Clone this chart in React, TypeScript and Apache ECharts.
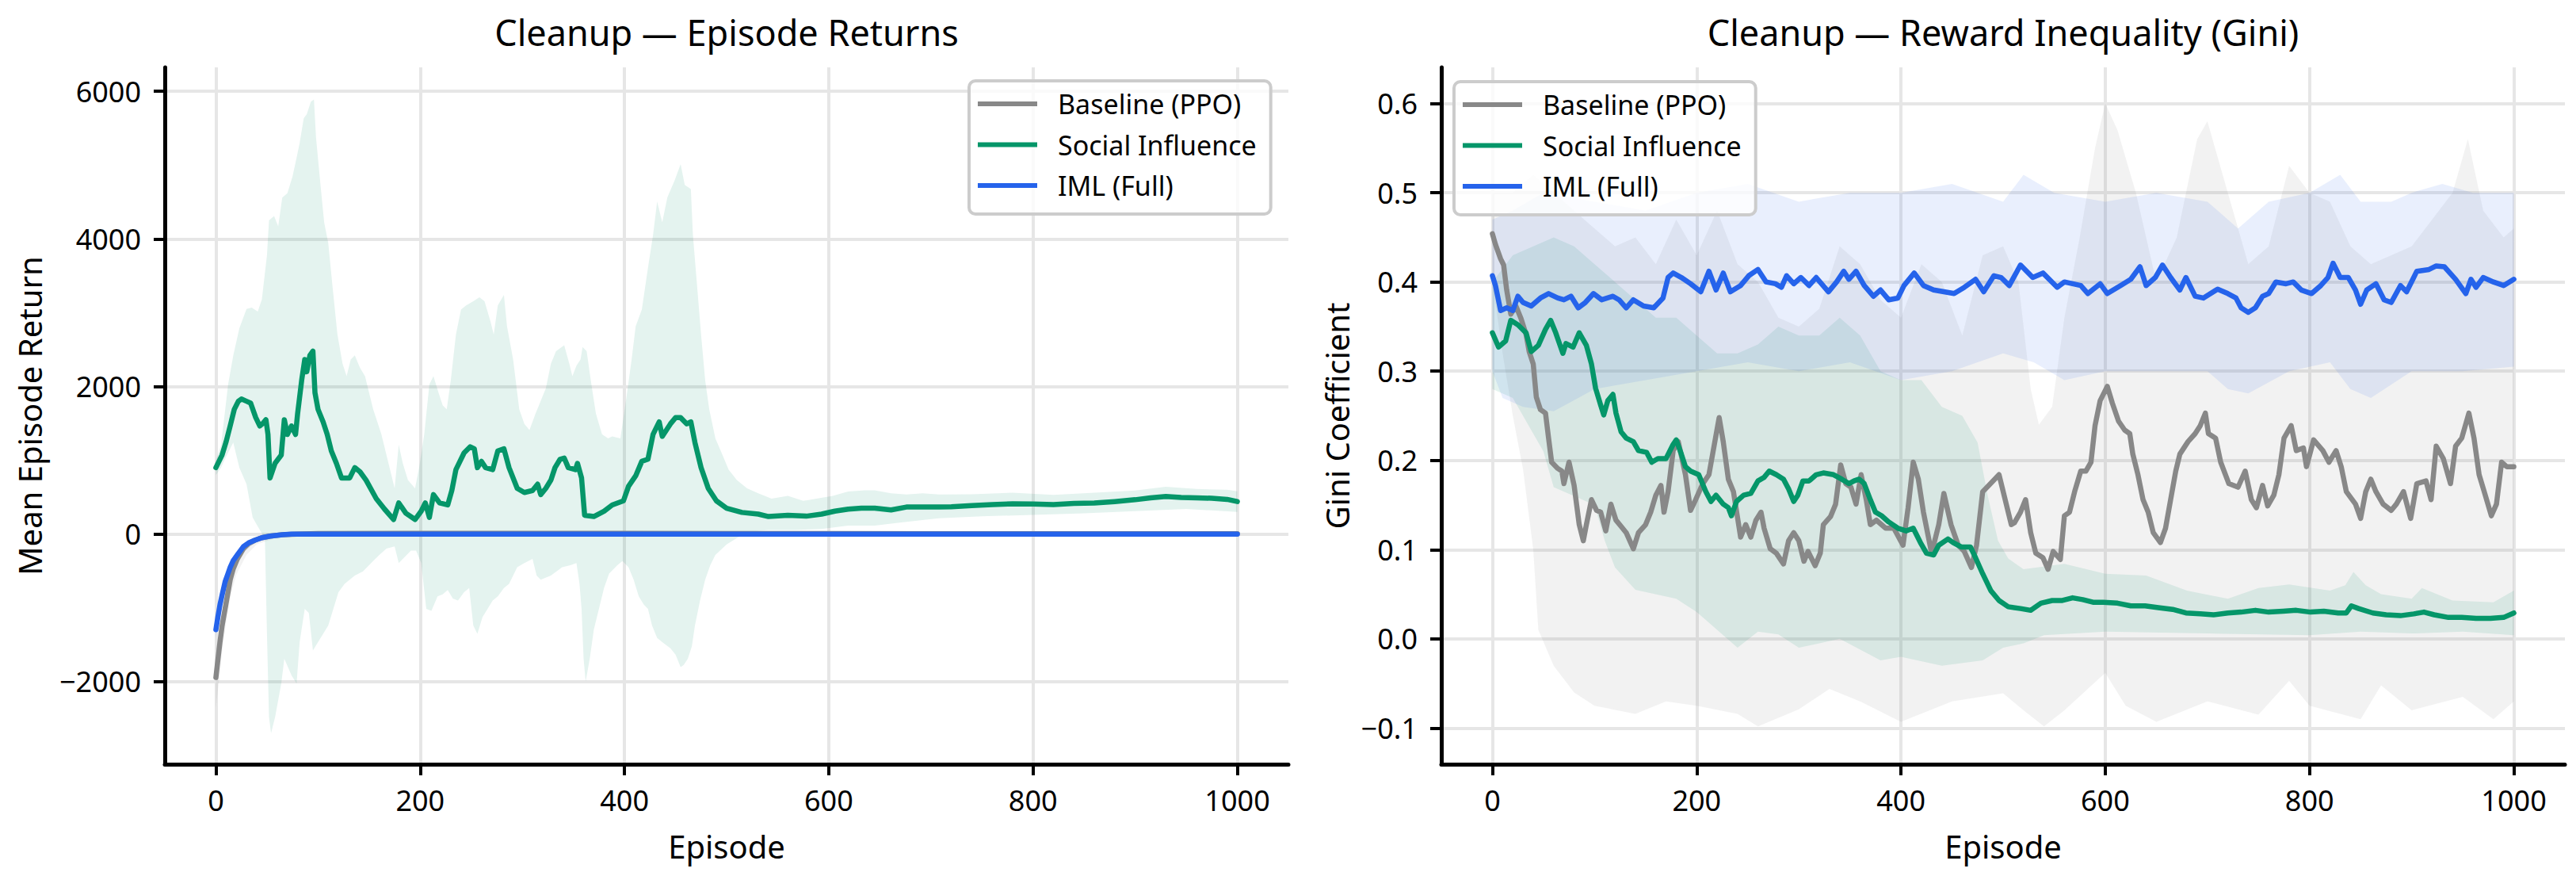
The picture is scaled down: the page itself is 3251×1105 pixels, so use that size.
import React, { useEffect, useRef } from 'react';
import * as echarts from 'echarts';

const FONT = '"Noto Sans", "DejaVu Sans", sans-serif';
const GRAY = '#888888';
const GREEN = '#059669';
const BLUE = '#2563eb';
const GRAY_BAND = 'rgba(136,136,136,0.11)';
const GREEN_BAND = 'rgba(5,150,105,0.11)';
const BLUE_BAND = 'rgba(37,99,235,0.10)';

const seriesNames = ['Baseline (PPO)', 'Social Influence', 'IML (Full)'];
const episodeTicks = [0, 200, 400, 600, 800, 1000];
const returnTicks = [-2000, 0, 2000, 4000, 6000];
const giniTicks = [-0.1, 0, 0.1, 0.2, 0.3, 0.4, 0.5, 0.6];
const titles = ['Cleanup \u2014 Episode Returns', 'Cleanup \u2014 Reward Inequality (Gini)'];

// ---------- Left panel: Mean Episode Return ----------
const leftBaseline = [[0,-1944],[2,-1700],[4,-1465],[6,-1250],[9,-1014],[12,-780],[14,-620],[17,-470],[21,-338],[27,-197],[32,-130],[38,-85],[45,-50],[53,-28],[65,-10],[79,0],[100,8],[200,10],[300,10],[400,10],[500,8],[600,6],[700,5],[800,5],[900,5],[1000,5]];
const leftIML = [[0,-1296],[2,-1120],[4,-958],[6,-830],[9,-648],[12,-530],[14,-451],[17,-360],[21,-282],[27,-169],[32,-120],[38,-85],[45,-50],[53,-28],[65,-10],[74,0],[200,0],[400,0],[600,0],[800,0],[1000,0]];
const leftSocial = [[0,900],[6,1070],[10,1250],[14,1465],[18,1690],[22,1800],[25,1830],[30,1800],[34,1775],[39,1580],[43,1465],[46,1500],[49,1550],[51,1350],[53,760],[58,960],[64,1070],[67,1550],[70,1350],[74,1465],[78,1350],[80,1630],[84,2085],[87,2365],[89,2200],[92,2420],[95,2480],[97,1915],[100,1690],[105,1520],[109,1350],[113,1127],[118,958],[123,760],[131,760],[136,900],[141,845],[147,730],[157,480],[165,340],[174,197],[179,422],[186,282],[195,197],[201,310],[205,422],[209,225],[213,535],[219,422],[227,394],[231,590],[235,873],[243,1100],[249,1183],[253,1155],[256,900],[260,985],[264,900],[271,873],[276,1127],[282,1155],[287,900],[295,620],[302,563],[310,590],[315,676],[318,535],[323,620],[328,732],[332,900],[337,1014],[341,1030],[345,900],[352,873],[354,958],[358,760],[361,253],[370,237],[380,310],[388,394],[399,450],[404,648],[411,789],[417,986],[423,1014],[428,1352],[434,1521],[437,1324],[445,1493],[450,1577],[455,1577],[461,1493],[465,1521],[469,1240],[475,900],[482,620],[490,450],[500,350],[515,293],[531,270],[541,237],[560,254],[578,242],[593,270],[606,310],[619,338],[632,350],[645,350],[661,327],[676,366],[692,366],[708,366],[720,370],[740,385],[760,400],[780,410],[800,408],[820,400],[840,415],[860,420],[880,440],[900,465],[915,490],[930,508],[945,495],[960,490],[975,485],[990,470],[1000,440]];

const leftBaselineUpper = [[0,-1550],[3,-1350],[6,-1100],[10,-850],[15,-520],[20,-320],[30,-150],[40,-70],[60,-20],[80,0],[200,14],[1000,10]];
const leftBaselineLower = [[0,-2350],[3,-2000],[6,-1600],[10,-1200],[15,-800],[20,-550],[30,-280],[40,-140],[60,-45],[80,-15],[200,4],[1000,0]];
const leftIMLUpper = [[0,-1200],[5,-850],[10,-560],[20,-240],[40,-70],[80,5],[1000,5]];
const leftIMLLower = [[0,-1400],[5,-1050],[10,-740],[20,-330],[40,-100],[80,-5],[1000,-5]];
const leftSocialUpper = [[0,1000],[5,1200],[12,2030],[17,2420],[23,2790],[30,3050],[35,3070],[41,3015],[45,3180],[50,3775],[52,4250],[57,4310],[61,4170],[65,4560],[70,4620],[75,4845],[79,5100],[82,5300],[86,5634],[89,5690],[93,5860],[96,5890],[98,5380],[102,4790],[106,4225],[110,3944],[114,3380],[119,2704],[124,2310],[128,2140],[132,2366],[136,2422],[141,2254],[146,2140],[154,1690],[162,1352],[170,901],[175,620],[179,1211],[183,958],[188,732],[195,620],[199,901],[204,1352],[209,2028],[213,2140],[218,1915],[222,1746],[226,1690],[230,2085],[235,2704],[240,3042],[245,3100],[252,3155],[258,3210],[263,3155],[269,2873],[272,2704],[276,3100],[282,3240],[285,2817],[291,2366],[297,1690],[302,1493],[307,1408],[313,1634],[318,1803],[323,1972],[328,2310],[333,2479],[341,2560],[346,2310],[349,2140],[353,2282],[357,2366],[359,2535],[363,2479],[367,2085],[372,1634],[378,1352],[384,1296],[388,1324],[396,1296],[402,1859],[407,2366],[411,2817],[417,3042],[423,3606],[428,4056],[432,4507],[437,4225],[442,4563],[449,4789],[455,5014],[459,4732],[465,4676],[467,4056],[471,3380],[475,2704],[479,2085],[483,1690],[489,1296],[496,1070],[502,873],[510,732],[520,620],[531,552],[544,479],[560,518],[575,450],[588,479],[604,518],[619,575],[635,592],[645,592],[661,552],[676,535],[692,552],[708,535],[740,540],[780,560],[820,530],[860,560],[900,590],[930,640],[960,610],[990,600],[1000,580]];
const leftSocialLower = [[0,800],[5,900],[10,1050],[17,1240],[23,900],[30,676],[36,225],[43,56],[48,-56],[50,-1352],[52,-2479],[54,-2700],[58,-2479],[64,-2028],[67,-1690],[74,-1915],[79,-2028],[82,-1465],[87,-1014],[91,-1070],[95,-1577],[100,-1465],[105,-1352],[110,-1240],[115,-1014],[120,-789],[126,-676],[131,-620],[136,-563],[144,-507],[152,-394],[160,-282],[167,-197],[175,-169],[179,-394],[183,-338],[191,-225],[196,-225],[201,-394],[206,-1014],[211,-1042],[217,-845],[222,-817],[227,-760],[232,-873],[237,-901],[243,-789],[248,-732],[252,-1240],[256,-1352],[261,-1127],[266,-1014],[271,-901],[276,-845],[282,-732],[287,-676],[295,-451],[302,-394],[310,-338],[314,-563],[318,-620],[328,-563],[339,-451],[347,-423],[353,-394],[356,-676],[358,-1014],[360,-1690],[362,-2000],[366,-1690],[370,-1296],[375,-1014],[380,-732],[385,-535],[393,-423],[398,-366],[404,-451],[409,-620],[414,-845],[419,-958],[423,-1014],[427,-1240],[432,-1408],[437,-1465],[445,-1549],[450,-1634],[455,-1803],[458,-1775],[462,-1690],[466,-1521],[469,-1240],[474,-901],[479,-620],[484,-423],[489,-282],[500,-141],[510,-56],[520,28],[541,56],[567,56],[593,68],[619,113],[645,113],[671,158],[697,197],[708,214],[750,240],[800,260],[850,280],[900,310],[950,340],[1000,300]];

// ---------- Right panel: Gini coefficient ----------
const rightBaseline = [[0,0.454],[3,0.442],[8,0.426],[11,0.419],[14,0.391],[18,0.364],[23,0.373],[28,0.359],[33,0.341],[36,0.322],[40,0.308],[43,0.271],[47,0.257],[52,0.253],[55,0.225],[58,0.198],[64,0.191],[68,0.188],[70,0.174],[75,0.198],[80,0.172],[85,0.128],[89,0.110],[92,0.128],[97,0.156],[102,0.144],[106,0.142],[111,0.121],[116,0.151],[121,0.133],[126,0.126],[131,0.119],[138,0.101],[143,0.119],[150,0.128],[155,0.142],[160,0.161],[165,0.172],[168,0.142],[172,0.165],[177,0.211],[182,0.221],[189,0.184],[194,0.144],[199,0.156],[206,0.174],[212,0.184],[217,0.216],[222,0.248],[226,0.221],[231,0.179],[236,0.165],[243,0.114],[248,0.128],[253,0.114],[258,0.133],[263,0.142],[266,0.124],[272,0.101],[278,0.096],[285,0.084],[290,0.110],[295,0.119],[300,0.110],[305,0.087],[309,0.098],[316,0.082],[321,0.096],[324,0.128],[331,0.137],[336,0.151],[341,0.195],[346,0.174],[351,0.170],[356,0.151],[361,0.184],[366,0.156],[370,0.128],[376,0.133],[385,0.124],[393,0.124],[402,0.105],[407,0.147],[412,0.198],[417,0.179],[422,0.142],[430,0.096],[437,0.128],[442,0.163],[449,0.128],[456,0.105],[462,0.098],[469,0.080],[474,0.105],[480,0.165],[486,0.172],[496,0.184],[502,0.156],[508,0.128],[511,0.130],[517,0.142],[522,0.156],[527,0.119],[532,0.096],[539,0.091],[544,0.078],[549,0.098],[556,0.089],[560,0.138],[565,0.142],[570,0.165],[576,0.188],[581,0.188],[586,0.198],[590,0.239],[595,0.267],[602,0.283],[607,0.264],[613,0.244],[619,0.234],[624,0.230],[627,0.207],[632,0.184],[637,0.156],[642,0.142],[647,0.119],[654,0.108],[659,0.124],[664,0.156],[669,0.188],[673,0.207],[681,0.221],[688,0.230],[693,0.239],[698,0.253],[701,0.230],[708,0.225],[713,0.198],[721,0.174],[730,0.170],[737,0.188],[743,0.156],[748,0.147],[754,0.172],[759,0.149],[765,0.161],[770,0.184],[775,0.225],[782,0.239],[787,0.211],[794,0.214],[797,0.193],[804,0.223],[813,0.211],[819,0.198],[826,0.211],[831,0.193],[836,0.165],[845,0.151],[850,0.135],[855,0.165],[860,0.179],[865,0.165],[872,0.151],[880,0.144],[885,0.151],[892,0.165],[899,0.135],[905,0.174],[914,0.177],[919,0.156],[924,0.216],[931,0.202],[938,0.174],[943,0.216],[949,0.225],[956,0.253],[961,0.225],[966,0.184],[971,0.165],[978,0.138],[983,0.151],[988,0.198],[993,0.193],[1000,0.193]];
const rightSocial = [[0,0.343],[6,0.327],[13,0.334],[18,0.357],[25,0.352],[33,0.343],[38,0.322],[45,0.329],[52,0.347],[57,0.357],[62,0.343],[69,0.320],[72,0.331],[79,0.327],[85,0.343],[92,0.329],[97,0.308],[101,0.281],[106,0.262],[109,0.251],[113,0.267],[118,0.274],[121,0.253],[126,0.232],[131,0.225],[138,0.221],[143,0.211],[151,0.209],[156,0.198],[162,0.202],[170,0.202],[177,0.218],[180,0.223],[185,0.207],[189,0.193],[194,0.188],[202,0.184],[209,0.165],[214,0.154],[219,0.161],[226,0.151],[231,0.147],[234,0.138],[239,0.154],[246,0.161],[253,0.163],[260,0.177],[266,0.181],[271,0.188],[278,0.184],[285,0.179],[290,0.168],[295,0.154],[299,0.161],[304,0.177],[310,0.177],[317,0.184],[324,0.186],[334,0.184],[342,0.179],[349,0.174],[354,0.177],[359,0.179],[364,0.174],[370,0.156],[375,0.142],[381,0.138],[388,0.131],[397,0.124],[405,0.121],[412,0.124],[419,0.108],[425,0.096],[432,0.094],[437,0.105],[446,0.112],[451,0.108],[459,0.103],[468,0.103],[473,0.091],[480,0.073],[488,0.054],[496,0.043],[505,0.036],[517,0.034],[527,0.032],[537,0.040],[548,0.043],[558,0.043],[568,0.046],[578,0.044],[588,0.041],[598,0.041],[612,0.040],[625,0.037],[639,0.037],[652,0.035],[666,0.033],[679,0.029],[693,0.028],[706,0.027],[720,0.029],[733,0.030],[747,0.032],[760,0.030],[774,0.031],[787,0.032],[801,0.030],[814,0.031],[828,0.029],[836,0.029],[841,0.037],[848,0.034],[862,0.029],[875,0.027],[889,0.026],[902,0.028],[912,0.030],[922,0.027],[936,0.024],[949,0.024],[963,0.023],[977,0.023],[990,0.024],[1000,0.029]];
const rightIML = [[0,0.407],[3,0.396],[8,0.368],[14,0.371],[20,0.368],[25,0.384],[30,0.377],[38,0.373],[47,0.382],[55,0.387],[64,0.382],[70,0.380],[77,0.384],[84,0.371],[91,0.377],[99,0.387],[107,0.380],[118,0.384],[124,0.380],[131,0.371],[138,0.380],[148,0.373],[158,0.371],[167,0.382],[172,0.405],[177,0.410],[185,0.405],[194,0.398],[204,0.389],[212,0.412],[219,0.391],[226,0.410],[233,0.389],[243,0.396],[251,0.407],[260,0.414],[268,0.400],[277,0.398],[283,0.394],[288,0.407],[295,0.398],[302,0.405],[310,0.396],[317,0.405],[329,0.389],[337,0.400],[344,0.412],[349,0.403],[356,0.412],[364,0.396],[373,0.384],[380,0.391],[388,0.380],[397,0.382],[403,0.396],[413,0.410],[422,0.396],[432,0.391],[442,0.389],[452,0.387],[462,0.394],[473,0.403],[481,0.389],[491,0.407],[498,0.405],[506,0.396],[517,0.419],[529,0.405],[539,0.410],[553,0.394],[560,0.400],[576,0.396],[583,0.387],[595,0.398],[602,0.387],[615,0.396],[625,0.403],[634,0.417],[640,0.396],[649,0.405],[656,0.419],[664,0.405],[673,0.391],[679,0.405],[688,0.384],[696,0.382],[710,0.392],[720,0.387],[728,0.382],[733,0.371],[740,0.366],[747,0.371],[754,0.384],[760,0.387],[767,0.400],[777,0.398],[784,0.400],[792,0.391],[802,0.387],[811,0.396],[818,0.405],[823,0.421],[830,0.405],[838,0.405],[845,0.391],[850,0.375],[856,0.391],[865,0.398],[873,0.380],[880,0.377],[889,0.396],[895,0.389],[905,0.412],[917,0.414],[924,0.418],[932,0.417],[943,0.403],[953,0.387],[958,0.403],[963,0.394],[970,0.405],[980,0.400],[990,0.396],[1000,0.403]];

const rightBaselineUpper = [[0,0.50],[10,0.50],[20,0.50],[40,0.52],[60,0.50],[80,0.48],[100,0.46],[120,0.44],[140,0.45],[160,0.42],[180,0.47],[200,0.43],[220,0.48],[240,0.42],[260,0.40],[280,0.36],[300,0.35],[320,0.37],[340,0.44],[360,0.42],[380,0.38],[400,0.36],[420,0.42],[440,0.40],[460,0.34],[480,0.43],[500,0.44],[515,0.40],[527,0.28],[535,0.24],[548,0.26],[560,0.36],[575,0.45],[590,0.55],[600,0.60],[612,0.57],[630,0.50],[650,0.40],[670,0.45],[690,0.56],[700,0.58],[720,0.50],[740,0.42],[760,0.44],[780,0.53],[800,0.50],[820,0.49],[840,0.44],[860,0.42],[880,0.43],[900,0.44],[920,0.47],[940,0.50],[955,0.56],[970,0.48],[990,0.45],[1000,0.46]];
const rightBaselineLower = [[0,0.40],[10,0.32],[20,0.25],[30,0.19],[40,0.10],[45,0.01],[60,-0.03],[80,-0.06],[100,-0.075],[140,-0.084],[170,-0.07],[200,-0.075],[240,-0.084],[260,-0.098],[300,-0.079],[330,-0.056],[360,-0.07],[400,-0.093],[450,-0.07],[500,-0.061],[520,-0.08],[540,-0.098],[560,-0.08],[600,-0.038],[620,-0.075],[650,-0.093],[700,-0.07],[750,-0.085],[780,-0.047],[800,-0.075],[850,-0.09],[870,-0.052],[900,-0.08],[950,-0.065],[980,-0.09],[1000,-0.07]];
const rightSocialUpper = [[0,0.40],[20,0.43],[40,0.44],[60,0.45],[80,0.44],[100,0.42],[120,0.40],[140,0.38],[160,0.36],[180,0.36],[200,0.34],[220,0.32],[240,0.32],[260,0.33],[280,0.35],[300,0.34],[320,0.34],[340,0.36],[360,0.34],[380,0.30],[400,0.29],[420,0.29],[440,0.26],[460,0.25],[475,0.22],[485,0.16],[495,0.11],[505,0.09],[520,0.078],[560,0.084],[600,0.073],[640,0.071],[680,0.054],[720,0.045],[750,0.057],[780,0.061],[820,0.054],[835,0.06],[843,0.075],[855,0.06],[870,0.05],[900,0.045],[910,0.057],[940,0.043],[980,0.041],[1000,0.054]];
const rightSocialLower = [[0,0.28],[20,0.27],[40,0.23],[50,0.21],[60,0.17],[80,0.16],[100,0.15],[110,0.11],[120,0.08],[140,0.055],[180,0.045],[200,0.03],[240,-0.01],[260,0.008],[280,0.005],[300,-0.01],[340,0.0],[380,-0.024],[400,-0.02],[440,-0.03],[480,-0.024],[500,-0.01],[520,-0.005],[540,0.004],[600,0.008],[700,0.006],[800,0.004],[850,0.008],[900,0.006],[950,0.008],[1000,0.004]];
const rightIMLUpper = [[0,0.47],[20,0.48],[50,0.50],[100,0.49],[150,0.48],[200,0.50],[250,0.51],[300,0.49],[350,0.50],[400,0.50],[450,0.51],[500,0.49],[520,0.52],[550,0.50],[600,0.49],[650,0.50],[700,0.49],[730,0.46],[760,0.49],[800,0.50],[830,0.52],[850,0.49],[880,0.49],[900,0.50],[930,0.51],[960,0.50],[1000,0.50]];
const rightIMLLower = [[0,0.30],[10,0.27],[30,0.26],[60,0.255],[100,0.28],[150,0.29],[200,0.30],[250,0.31],[300,0.30],[350,0.31],[400,0.29],[450,0.30],[500,0.32],[530,0.31],[560,0.29],[600,0.30],[650,0.30],[700,0.30],[720,0.28],[740,0.275],[780,0.30],[820,0.31],[840,0.28],[860,0.27],[900,0.30],[950,0.30],[1000,0.305]];

const MINUS = '\u2212';

function band(upper: number[][], lower: number[][], fill: string, axis: number) {
  return {
    type: 'custom',
    xAxisIndex: axis,
    yAxisIndex: axis,
    silent: true,
    z: 1,
    data: [[upper[0][0], upper[0][1]]],
    renderItem: (_params: any, api: any) => {
      const pts = upper.map((p) => api.coord(p)).concat(lower.slice().reverse().map((p) => api.coord(p)));
      return { type: 'polygon', shape: { points: pts }, style: { fill, stroke: 'none' } };
    },
  };
}

function line(name: string, data: number[][], color: string, axis: number) {
  return {
    type: 'line',
    name,
    xAxisIndex: axis,
    yAxisIndex: axis,
    data,
    color,
    showSymbol: false,
    symbol: 'none',
    z: 3,
    lineStyle: { color, width: 6.5, join: 'round', cap: 'round' },
    itemStyle: { color },
    emphasis: { disabled: true },
  };
}

const tickStyle = { show: true, length: 14, inside: false, lineStyle: { color: '#000', width: 4 } };
const axisLineStyle = { show: true, onZero: false, lineStyle: { color: '#000', width: 5 } };
const splitStyle = { show: true, lineStyle: { color: '#e6e6e6', width: 4 } };
const labelText = { fontSize: 36, color: '#000', fontFamily: FONT };
const nameText = { fontSize: 40, color: '#000', fontFamily: FONT };

function xAxis(grid: number) {
  return {
    gridIndex: grid,
    type: 'value',
    min: -50,
    max: 1050,
    name: 'Episode',
    nameLocation: 'middle',
    nameGap: 83,
    nameTextStyle: nameText,
    axisLine: axisLineStyle,
    axisTick: { ...tickStyle, customValues: episodeTicks },
    axisLabel: { ...labelText, margin: 27, customValues: episodeTicks, formatter: (v: number) => String(v) },
    splitLine: splitStyle,
  };
}

function legend(left: number, top: number) {
  return {
    orient: 'vertical',
    left,
    top,
    data: seriesNames,
    icon: 'rect',
    itemWidth: 75,
    itemHeight: 6,
    itemGap: 17.5,
    padding: [12, 18, 19, 11],
    backgroundColor: 'rgba(255,255,255,0.8)',
    borderColor: '#cccccc',
    borderWidth: 4,
    borderRadius: 8,
    selectedMode: false,
    textStyle: { fontSize: 34, color: '#000', fontFamily: FONT, lineHeight: 34, padding: [0, 0, 0, 21] },
  };
}

const option: any = {
  animation: false,
  backgroundColor: '#ffffff',
  grid: [
    { left: 208, top: 85, width: 1418, height: 879 },
    { left: 1819, top: 85, width: 1418, height: 879 },
  ],
  xAxis: [xAxis(0), xAxis(1)],
  yAxis: [
    {
      gridIndex: 0,
      type: 'value',
      min: -3120,
      max: 6325,
      name: 'Mean Episode Return',
      nameLocation: 'middle',
      nameGap: 151,
      nameTextStyle: nameText,
      axisLine: axisLineStyle,
      axisTick: { ...tickStyle, customValues: returnTicks },
      axisLabel: {
        ...labelText,
        margin: 30,
        customValues: returnTicks,
        formatter: (v: number) => (v < 0 ? MINUS + Math.abs(v) : String(v)),
      },
      splitLine: splitStyle,
    },
    {
      gridIndex: 1,
      type: 'value',
      min: -0.1405,
      max: 0.6405,
      name: 'Gini Coefficient',
      nameLocation: 'middle',
      nameGap: 112,
      nameTextStyle: nameText,
      axisLine: axisLineStyle,
      axisTick: { ...tickStyle, customValues: giniTicks },
      axisLabel: {
        ...labelText,
        margin: 30,
        customValues: giniTicks,
        formatter: (v: number) => (v < -1e-9 ? MINUS : '') + Math.abs(v).toFixed(1),
      },
      splitLine: splitStyle,
    },
  ],
  legend: [legend(1223, 102), legend(1835, 103)],
  graphic: [
    {
      type: 'text',
      x: 917,
      y: 40,
      style: { text: titles[0], fontSize: 45, fontFamily: FONT, fill: '#000', align: 'center', verticalAlign: 'middle' },
    },
    {
      type: 'text',
      x: 2528,
      y: 40,
      style: { text: titles[1], fontSize: 45, fontFamily: FONT, fill: '#000', align: 'center', verticalAlign: 'middle' },
    },
  ],
  series: [
    band(leftBaselineUpper, leftBaselineLower, GRAY_BAND, 0),
    band(leftSocialUpper, leftSocialLower, GREEN_BAND, 0),
    band(leftIMLUpper, leftIMLLower, BLUE_BAND, 0),
    line(seriesNames[0], leftBaseline, GRAY, 0),
    line(seriesNames[1], leftSocial, GREEN, 0),
    line(seriesNames[2], leftIML, BLUE, 0),
    band(rightBaselineUpper, rightBaselineLower, GRAY_BAND, 1),
    band(rightSocialUpper, rightSocialLower, GREEN_BAND, 1),
    band(rightIMLUpper, rightIMLLower, BLUE_BAND, 1),
    line(seriesNames[0], rightBaseline, GRAY, 1),
    line(seriesNames[1], rightSocial, GREEN, 1),
    line(seriesNames[2], rightIML, BLUE, 1),
  ],
};

export default function App() {
  const ref = useRef<HTMLDivElement>(null);
  useEffect(() => {
    if (!ref.current) return;
    const chart = echarts.init(ref.current, null, { renderer: 'svg' });
    chart.setOption(option);
    return () => chart.dispose();
  }, []);
  return (
    <div
      ref={ref}
      style={{ position: 'absolute', left: 0, top: 0, width: 3251, height: 1105, background: '#ffffff' }}
    />
  );
}
